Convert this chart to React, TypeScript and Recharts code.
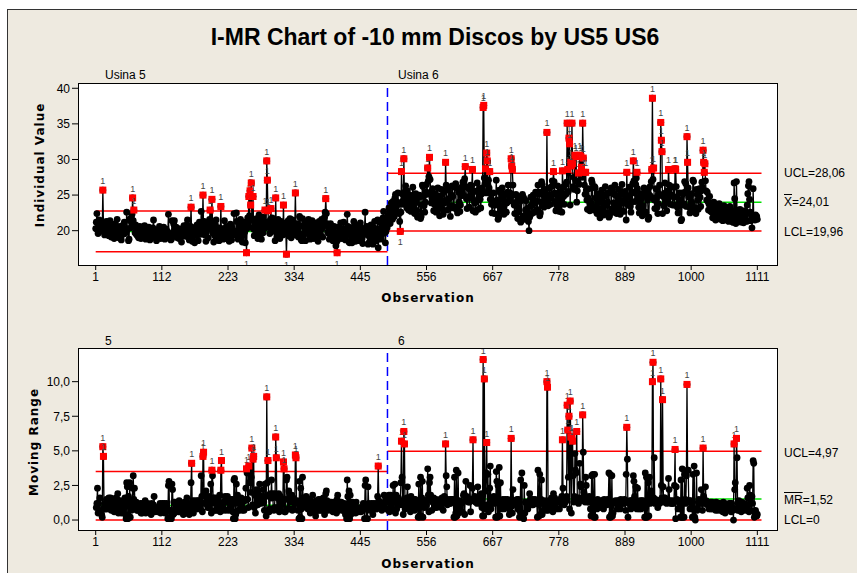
import React from "react";
import { ComposedChart, Line, Scatter, XAxis, YAxis, ReferenceLine } from "recharts";

// Usina 5 individual values (obs 1-490)
const usina5a = [
  20.3, 21.2, 22.4, 20.1, 19.6, 20.8, 21.5, 19.9, 20.4, 21.0,
  20.6, 20.4, 25.7, 21.1, 20.2, 19.4, 20.6, 19.8, 21.3, 20.5,
  19.6, 20.9, 19.3, 20.2, 21.4, 19.8, 19.1, 20.5, 19.7, 20.8,
  19.5, 18.9, 20.3, 21.0, 19.4, 20.1, 21.6, 19.7, 20.2, 19.0,
  19.8, 20.6, 19.2, 18.7, 19.9, 20.7, 19.5, 20.3, 21.2, 19.6,
  20.0, 19.9, 22.6, 20.2, 20.3, 18.6, 18.8, 21.5, 21.7, 20.4,
  21.1, 22.3, 24.6, 21.4, 22.9, 20.6, 19.7, 20.8, 19.5, 20.2,
  19.3, 20.0, 19.0, 19.8, 20.6, 19.4, 18.9, 19.9, 20.4, 19.2,
  20.1, 19.5, 20.7, 19.3, 18.8, 19.6, 20.3, 19.1, 19.9, 20.5,
  19.4, 18.7, 19.8, 20.2, 19.0, 19.6, 20.4, 21.5, 19.8, 19.2,
];
const usina5b = [
  20.0, 19.3, 18.6, 19.5, 20.1, 19.2, 19.9, 20.6, 19.4, 18.9,
  19.7, 20.3, 19.1, 19.8, 20.5, 19.3, 18.8, 19.6, 20.2, 19.0,
  19.9, 19.8, 22.3, 19.5, 19.6, 19.4, 18.7, 18.8, 21.4, 19.2,
  19.6, 20.9, 21.4, 20.1, 19.3, 20.5, 19.8, 19.0, 19.7, 20.3,
  18.9, 19.5, 20.2, 19.1, 18.4, 19.3, 20.0, 19.6, 20.7, 19.4,
  19.9, 20.4, 19.2, 20.8, 21.5, 20.3, 19.1, 18.7, 19.8, 20.6,
  23.3, 19.2, 18.5, 19.9, 20.4, 19.3, 18.3, 19.7, 20.5, 19.6,
  20.8, 19.4, 18.6, 20.0, 21.2, 20.3, 19.5, 22.7, 21.0, 20.4,
  25.0, 20.1, 21.3, 19.4, 20.6, 18.5, 19.8, 21.1, 20.2, 19.0,
  20.7, 21.6, 22.9, 20.3, 20.8, 24.4, 21.2, 19.6, 18.4, 20.0,
];
const usina5c = [
  19.3, 20.8, 21.5, 19.9, 18.7, 20.2, 19.5, 18.6, 20.4, 19.8,
  23.4, 19.1, 20.3, 19.6, 18.8, 20.1, 21.4, 19.7, 19.0, 20.5,
  18.9, 20.6, 19.3, 20.0, 18.5, 19.4, 20.9, 19.8, 18.7, 20.2,
  19.6, 19.5, 22.4, 19.4, 19.5, 19.9, 22.5, 21.3, 19.5, 18.8,
  20.1, 19.4, 20.8, 21.6, 20.0, 19.1, 18.4, 19.7, 20.5, 21.2,
  19.8, 18.3, 20.6, 16.9, 20.3, 21.8, 20.9, 24.8, 22.1, 25.6,
  23.6, 26.7, 21.5, 20.4, 24.8, 20.2, 19.3, 21.1, 20.6, 19.5,
  21.7, 20.0, 18.9, 20.8, 22.2, 19.6, 21.3, 20.1, 18.8, 20.5,
  21.9, 19.7, 21.0, 20.3, 22.9, 21.2, 20.9, 29.8, 27.1, 22.8,
  21.0, 20.4, 19.6, 21.5, 23.1, 20.2, 21.8, 19.9, 20.7, 21.4,
];
const usina5d = [
  20.5, 18.6, 24.6, 20.1, 19.2, 20.8, 21.6, 19.7, 20.3, 18.9,
  20.6, 21.3, 19.8, 20.9, 19.4, 23.6, 19.9, 20.5, 21.1, 19.6,
  16.7, 19.8, 20.6, 21.4, 19.3, 20.1, 21.7, 20.4, 19.0, 20.8,
  21.5, 19.9, 20.7, 19.4, 20.6, 25.3, 20.8, 19.6, 21.0, 20.3,
  19.1, 19.2, 22.0, 21.8, 19.5, 18.7, 18.6, 21.7, 20.6, 19.4,
  20.9, 19.8, 18.6, 20.3, 21.2, 19.7, 20.5, 21.6, 20.1, 19.3,
  18.8, 19.9, 20.7, 21.4, 19.6, 20.2, 18.9, 19.5, 20.8, 21.1,
  19.7, 20.4, 19.2, 18.5, 20.0, 21.3, 20.6, 19.4, 20.9, 21.6,
  20.3, 19.1, 20.7, 21.5, 21.9, 22.6, 24.5, 22.4, 21.0, 19.8,
  20.5, 19.6, 18.8, 20.1, 21.0, 19.7, 20.4, 19.2, 18.6, 19.9,
];
const usina5e = [
  20.6, 19.3, 18.5, 17.9, 18.4, 16.9, 18.7, 19.8, 20.5, 19.4,
  20.2, 21.1, 19.8, 18.9, 19.6, 20.3, 21.2, 20.0, 19.1, 18.7,
  19.5, 19.4, 22.3, 20.6, 20.5, 18.4, 18.3, 20.1, 19.7, 18.8,
  18.3, 19.6, 20.5, 21.3, 20.2, 19.0, 18.5, 19.8, 20.7, 19.9,
  19.2, 18.6, 19.4, 20.3, 21.1, 20.5, 19.6, 18.9, 18.2, 19.4,
  20.2, 20.1, 22.6, 19.7, 19.8, 20.6, 20.5, 18.1, 19.3, 18.4,
  19.1, 20.0, 20.8, 19.6, 18.5, 18.1, 19.2, 20.4, 21.3, 20.2,
  19.4, 18.6, 19.8, 21.5, 17.6, 19.0, 20.3, 21.2, 20.0, 18.8,
  19.5, 20.6, 21.8, 22.7, 20.9, 19.7, 18.3, 19.9, 21.2, 20.4,
];

// Usina 6 individual values (obs 491-1111)
const usina6a = [
  22.1, 21.4, 23.2, 22.6, 21.0, 22.8, 23.9, 22.3, 21.6, 24.1,
  23.4, 22.0, 24.6, 25.1, 23.3, 22.5, 24.0, 25.3, 23.7, 22.4,
  21.3, 19.9, 22.6, 28.3, 25.2, 24.1, 23.7, 30.1, 24.6, 25.4,
  26.3, 24.8, 23.2, 25.6, 24.1, 22.9, 23.8, 25.0, 24.4, 22.7,
  23.5, 24.9, 26.1, 24.6, 23.1, 22.4, 23.9, 25.2, 24.0, 22.8,
  21.9, 22.1, 24.7, 25.0, 24.8, 21.7, 22.0, 23.6, 26.4, 26.2,
  24.8, 23.5, 22.6, 24.0, 25.4, 26.5, 25.1, 28.8, 27.0, 27.6,
  30.3, 27.2, 25.4, 23.9, 24.6, 25.9, 24.4, 22.8, 23.7, 25.2,
  24.1, 22.6, 23.5, 24.8, 26.0, 24.7, 23.3, 22.1, 23.6, 24.9,
  25.8, 24.2, 23.0, 22.3, 23.8, 25.5, 24.1, 29.6, 26.4, 24.0,
];
const usina6b = [
  22.9, 24.4, 25.7, 24.5, 23.2, 22.0, 23.5, 25.0, 26.3, 24.8,
  23.4, 23.2, 26.3, 26.1, 26.6, 23.0, 23.3, 22.5, 25.9, 25.4,
  24.0, 22.7, 23.6, 24.9, 26.1, 25.5, 26.8, 25.0, 26.9, 27.3,
  29.0, 26.2, 24.5, 23.1, 24.7, 26.0, 24.6, 23.3, 25.8, 26.4,
  24.9, 26.3, 28.6, 22.8, 24.2, 25.6, 23.9, 22.6, 24.1, 25.5,
  26.7, 24.3, 23.0, 24.6, 25.9, 24.4, 23.2, 25.1, 26.0, 25.7,
  37.3, 37.6, 27.4, 26.6, 28.7, 25.3, 30.9, 29.8, 26.5, 27.1,
  26.0, 28.3, 24.4, 25.2, 23.7, 22.5, 24.0, 25.3, 23.6, 22.4,
  23.8, 23.6, 27.1, 24.3, 24.1, 21.6, 21.9, 25.7, 25.4, 22.7,
  23.5, 24.8, 26.0, 24.5, 23.1, 22.3, 23.7, 25.2, 24.0, 22.6,
];
const usina6c = [
  23.9, 25.4, 26.4, 25.0, 24.6, 25.3, 24.2, 30.1, 29.1, 28.6,
  26.4, 25.0, 23.6, 22.4, 23.8, 25.1, 24.0, 22.5, 21.7, 23.2,
  24.5, 24.7, 24.1, 21.2, 21.5, 24.9, 25.1, 24.7, 24.6, 22.1,
  21.6, 22.9, 24.2, 23.0, 21.8, 22.6, 21.3, 20.0, 21.9, 23.4,
  24.7, 23.5, 22.4, 23.9, 25.0, 23.8, 22.6, 24.1, 25.4, 24.2,
  23.0, 22.8, 26.4, 25.1, 25.4, 22.1, 22.5, 24.0, 26.9, 26.5,
  25.2, 24.0, 23.3, 24.7, 25.8, 24.5, 23.8, 33.8, 24.2, 23.5,
  24.9, 26.0, 25.1, 23.7, 24.6, 26.2, 27.0, 26.4, 28.3, 26.9,
  25.3, 24.1, 22.8, 23.6, 25.0, 26.3, 24.9, 23.5, 22.7, 24.2,
  25.5, 24.3, 22.6, 28.4, 26.1, 24.8, 23.7, 25.2, 26.5, 25.1,
];
const usina6d = [
  26.8, 35.1, 28.6, 25.5, 33.0, 32.2, 23.6, 29.6, 29.1, 35.1,
  29.4, 26.2, 27.5, 25.8, 30.6, 27.0, 30.4, 24.0, 25.6, 26.9,
  28.1, 26.5, 30.6, 28.0, 30.4, 28.9, 27.5, 35.1, 30.2, 28.2,
  26.4, 25.1, 28.2, 25.7, 24.3, 23.0, 24.6, 25.9, 24.2, 22.8,
  23.6, 23.9, 27.1, 26.7, 23.4, 23.1, 22.9, 26.2, 26.0, 24.6,
  23.2, 22.4, 23.9, 25.2, 24.0, 22.7, 21.8, 23.1, 24.5, 25.7,
  24.3, 23.0, 22.2, 23.7, 25.0, 26.2, 24.9, 23.6, 22.5, 24.0,
  25.3, 21.9, 22.1, 25.4, 25.6, 26.0, 22.8, 23.1, 22.6, 23.9,
  25.1, 26.4, 25.0, 23.7, 22.4, 23.2, 24.6, 25.8, 24.4, 23.1,
  22.3, 23.8, 25.2, 26.5, 25.1, 23.9, 22.7, 24.2, 25.5, 24.8,
];
const usina6e = [
  21.5, 28.2, 23.8, 23.6, 24.9, 26.1, 24.7, 23.4, 22.6, 24.0,
  25.4, 26.6, 29.8, 27.0, 25.3, 24.1, 26.5, 27.4, 28.2, 25.9,
  24.6, 23.3, 22.5, 23.9, 25.2, 24.4, 23.0, 22.1, 23.5, 24.8,
  26.0, 25.8, 22.4, 22.6, 25.7, 25.5, 24.3, 21.6, 21.9, 25.0,
  26.2, 24.8, 26.9, 28.6, 38.6, 27.2, 28.8, 24.3, 23.1, 24.6,
  25.9, 24.5, 23.3, 22.4, 23.8, 25.2, 26.4, 25.0, 35.2, 32.7,
  31.1, 22.4, 24.8, 23.5, 25.1, 26.7, 25.3, 24.0, 22.8, 24.3,
  25.6, 28.6, 26.4, 25.1, 23.7, 24.9, 26.2, 25.0, 23.6, 24.8,
  26.1, 23.6, 28.7, 28.6, 26.2, 24.7, 23.3, 22.5, 23.9, 25.3,
  24.1, 24.3, 21.4, 21.6, 25.3, 25.1, 23.8, 23.6, 26.9, 25.4,
  26.6, 23.4, 33.2, 29.6, 26.0, 24.7, 23.3, 22.5, 23.9, 25.2,
];
const usina6f = [
  24.0, 23.8, 27.1, 26.9, 23.0, 23.2, 23.2, 22.4, 25.8, 25.1,
  24.3, 23.0, 24.5, 25.9, 24.7, 23.4, 25.6, 26.8, 26.1, 31.3,
  29.6, 28.2, 29.4, 27.0, 25.6, 24.3, 25.4, 24.1, 22.9, 23.7,
  24.8, 23.5, 22.7, 23.9, 22.6, 21.8, 22.9, 24.0, 23.1, 22.2,
  21.5, 22.8, 23.6, 22.4, 21.7, 22.9, 23.8, 22.6, 21.6, 22.3,
  23.1, 22.0, 21.4, 22.7, 23.5, 22.3, 21.8, 22.6, 21.5, 22.4,
  23.2, 22.1, 21.3, 22.5, 23.4, 22.2, 21.6, 22.8, 21.9, 21.2,
  21.2, 26.7, 24.5, 21.8, 21.0, 26.9, 22.4, 21.7, 22.9, 21.5,
  22.2, 23.0, 21.8, 21.2, 22.5, 21.6, 22.3, 21.1, 22.0, 22.8,
  21.7, 22.4, 21.3, 23.6, 25.2, 26.3, 26.9, 24.4, 22.6, 21.4,
  22.1, 20.4, 21.6, 25.9, 21.8, 22.0, 21.5, 22.2, 21.7, 22.0, 21.6,
];

const obsTicks = [1, 112, 223, 334, 445, 556, 667, 778, 889, 1000, 1111];
const iTicks = [20, 25, 30, 35, 40];
const mrTicks = [0, 2.5, 5, 7.5, 10];

// control limits per stage
const limits5 = { ucl: 22.75, cl: 19.9, lcl: 17.05, mrUcl: 3.5, mrCl: 1.07 };
const limits6 = { ucl: 28.06, cl: 24.01, lcl: 19.96, mrUcl: 4.97, mrCl: 1.52 };

const stage5 = [...usina5a, ...usina5b, ...usina5c, ...usina5d, ...usina5e];
const stage6 = [...usina6a, ...usina6b, ...usina6c, ...usina6d, ...usina6e, ...usina6f];
const n5 = stage5.length;
const split = n5 + 0.5;

const indData = [...stage5, ...stage6].map((v, i) => ({ obs: i + 1, v }));
const mrData = indData.map((d, i) => ({
  obs: d.obs,
  mr: i === 0 || i === n5 ? null : Math.round(Math.abs(d.v - indData[i - 1].v) * 100) / 100,
}));
const lim = (obs: number) => (obs <= n5 ? limits5 : limits6);
const indOut = indData
  .filter((d) => d.v > lim(d.obs).ucl || d.v < lim(d.obs).lcl)
  .map((d) => ({ ...d, low: d.v < lim(d.obs).lcl }));
const mrOut = mrData.filter((d) => d.mr != null && (d.mr as number) > lim(d.obs).mrUcl);

const FONT = "'Liberation Sans', Arial, sans-serif";
const BOLD = "'DejaVu Sans', Verdana, sans-serif";
const RED = "#ff0000";
const GREEN = "#00e000";

const Flag = (props: any) => {
  const { cx, cy, payload } = props;
  if (cx == null || cy == null) return null;
  return (
    <g>
      <rect x={cx - 3.5} y={cy - 3.5} width={7} height={7} fill={RED} />
      <text x={cx} y={payload.low ? cy + 14 : cy - 6} textAnchor="middle" fontSize={9} fill="#444" fontFamily={FONT}>
        1
      </text>
    </g>
  );
};

const limitSeg = (y: number, a: number, b: number, color: string, key: string) => (
  <ReferenceLine key={key} segment={[{ x: a, y }, { x: b, y }]} stroke={color} strokeWidth={1.5} ifOverflow="visible" />
);

const fmtComma = (v: number) => v.toFixed(1).replace(".", ",");

const abs = (left: number, top: number, extra: React.CSSProperties = {}): React.CSSProperties => ({
  position: "absolute",
  left,
  top,
  whiteSpace: "nowrap",
  ...extra,
});

const label: React.CSSProperties = { fontFamily: FONT, fontSize: 12, color: "#000", lineHeight: "14px" };
const axisTitle: React.CSSProperties = { fontFamily: BOLD, fontWeight: "bold", fontSize: 12, letterSpacing: 1 };

export default function App() {
  return (
    <div style={{ position: "absolute", left: 0, top: 0, width: 857, height: 573, background: "#fff", overflow: "hidden" }}>
      {/* beige frame */}
      <div
        style={{
          position: "absolute",
          left: 7,
          top: 9,
          width: 860,
          height: 580,
          background: "#eeeae0",
          borderLeft: "1.5px solid #333",
          borderTop: "1.5px solid #333",
        }}
      />
      <div
        style={abs(0, 24, {
          width: 870,
          textAlign: "center",
          fontFamily: "'Liberation Sans Narrow', 'Liberation Sans', Arial, sans-serif",
          fontWeight: "bold",
          fontSize: 23,
        })}
      >
        I-MR Chart of -10 mm Discos by US5 US6
      </div>

      {/* plot frames */}
      <div style={abs(78, 83, { width: 698, height: 181, background: "#fff", border: "1px solid #000" })} />
      <div style={abs(78, 348, { width: 698, height: 181, background: "#fff", border: "1px solid #000" })} />

      <div style={abs(105, 68, label)}>Usina 5</div>
      <div style={abs(398, 68, label)}>Usina 6</div>
      <div style={abs(105, 334, label)}>5</div>
      <div style={abs(398, 334, label)}>6</div>

      {/* Individual chart */}
      <div style={abs(0, 0)}>
        <ComposedChart width={857} height={300} margin={{ top: 84, right: 80, left: 19, bottom: 5 }}>
          <XAxis
            type="number"
            dataKey="obs"
            domain={[-27, 1144]}
            ticks={obsTicks}
            allowDataOverflow
            axisLine={false}
            tickSize={5}
            tickLine={{ stroke: "#000" }}
            tick={{ fontSize: 12, fill: "#000", fontFamily: FONT }}
            height={30}
          />
          <YAxis
            type="number"
            domain={[15.18, 40.6]}
            ticks={iTicks}
            allowDataOverflow
            axisLine={false}
            tickSize={7}
            tickLine={{ stroke: "#000" }}
            tick={{ fontSize: 12, fill: "#000", fontFamily: FONT }}
            width={60}
          />
          {limitSeg(limits5.ucl, 1, split, RED, "u5")}
          {limitSeg(limits5.lcl, 1, split, RED, "l5")}
          {limitSeg(limits5.cl, 1, split, GREEN, "c5")}
          {limitSeg(limits6.ucl, split, 1118, RED, "u6")}
          {limitSeg(limits6.lcl, split, 1118, RED, "l6")}
          {limitSeg(limits6.cl, split, 1118, GREEN, "c6")}
          <ReferenceLine x={split} stroke="#0000ff" strokeWidth={1.5} strokeDasharray="9 5" />
          <Line
            data={indData}
            dataKey="v"
            type="linear"
            stroke="#000"
            strokeWidth={1.3}
            dot={{ r: 3.4, fill: "#000", stroke: "none" }}
            activeDot={false}
            isAnimationActive={false}
          />
          <Scatter data={indOut} dataKey="v" shape={<Flag />} isAnimationActive={false} />
        </ComposedChart>
      </div>

      {/* Moving range chart */}
      <div style={abs(0, 300)}>
        <ComposedChart width={857} height={273} margin={{ top: 49, right: 80, left: 19, bottom: 13 }}>
          <XAxis
            type="number"
            dataKey="obs"
            domain={[-27, 1144]}
            ticks={obsTicks}
            allowDataOverflow
            axisLine={false}
            tickSize={5}
            tickLine={{ stroke: "#000" }}
            tick={{ fontSize: 12, fill: "#000", fontFamily: FONT }}
            height={30}
          />
          <YAxis
            type="number"
            domain={[-0.72, 12.36]}
            ticks={mrTicks}
            tickFormatter={fmtComma}
            allowDataOverflow
            axisLine={false}
            tickSize={7}
            tickLine={{ stroke: "#000" }}
            tick={{ fontSize: 12, fill: "#000", fontFamily: FONT }}
            width={60}
          />
          {limitSeg(limits5.mrUcl, 1, split, RED, "mu5")}
          {limitSeg(0, 1, split, RED, "ml5")}
          {limitSeg(limits5.mrCl, 1, split, GREEN, "mc5")}
          {limitSeg(limits6.mrUcl, split, 1118, RED, "mu6")}
          {limitSeg(0, split, 1118, RED, "ml6")}
          {limitSeg(limits6.mrCl, split, 1118, GREEN, "mc6")}
          <ReferenceLine x={split} stroke="#0000ff" strokeWidth={1.5} strokeDasharray="9 5" />
          <Line
            data={mrData}
            dataKey="mr"
            type="linear"
            stroke="#000"
            strokeWidth={1.3}
            dot={{ r: 3.4, fill: "#000", stroke: "none" }}
            activeDot={false}
            connectNulls={false}
            isAnimationActive={false}
          />
          <Scatter data={mrOut} dataKey="mr" shape={<Flag />} isAnimationActive={false} />
        </ComposedChart>
      </div>

      {/* axis titles */}
      <div style={abs(40, 165, { ...axisTitle, transform: "translate(-50%, -50%) rotate(-90deg)" })}>Individual Value</div>
      <div style={abs(34, 442, { ...axisTitle, transform: "translate(-50%, -50%) rotate(-90deg)" })}>Moving Range</div>
      <div style={abs(428, 298, { ...axisTitle, transform: "translate(-50%, -50%)" })}>Observation</div>
      <div style={abs(428, 564, { ...axisTitle, transform: "translate(-50%, -50%)" })}>Observation</div>

      {/* limit labels */}
      <div style={abs(784, 166, label)}>UCL=28,06</div>
      <div style={abs(784, 195, label)}>
        <span style={{ textDecoration: "overline" }}>X</span>=24,01
      </div>
      <div style={abs(784, 225, label)}>LCL=19,96</div>
      <div style={abs(784, 446, label)}>UCL=4,97</div>
      <div style={abs(784, 493, label)}>
        <span style={{ textDecoration: "overline" }}>MR</span>=1,52
      </div>
      <div style={abs(784, 513, label)}>LCL=0</div>
    </div>
  );
}
